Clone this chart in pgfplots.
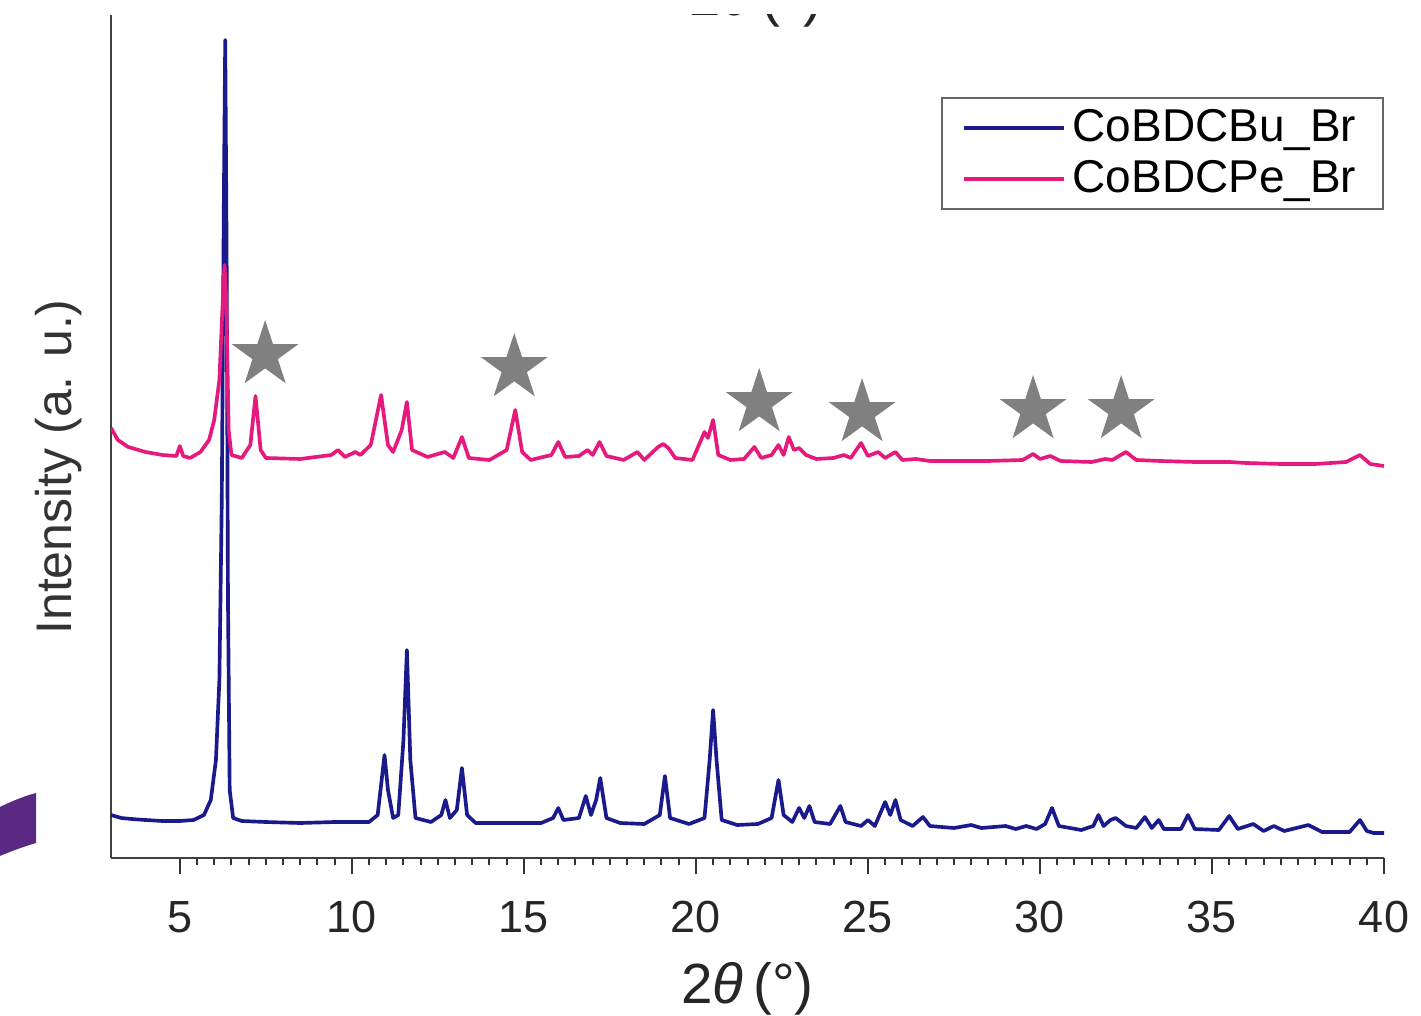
\documentclass[border=0pt]{standalone}
\usepackage{fontspec}
\setmainfont{Liberation Sans}
\usepackage{pgfplots}
\pgfplotsset{compat=1.18}
\definecolor{cobu}{RGB}{26,26,140}
\definecolor{cope}{RGB}{230,25,125}
\definecolor{stargray}{RGB}{128,128,128}
\definecolor{artpurple}{RGB}{91,40,130}
\pgfdeclareplotmark{fstar}{%
  \pgfpathmoveto{\pgfpointpolar{90}{\pgfplotmarksize}}%
  \pgfpathlineto{\pgfpointpolar{126}{0.382\pgfplotmarksize}}%
  \pgfpathlineto{\pgfpointpolar{162}{\pgfplotmarksize}}%
  \pgfpathlineto{\pgfpointpolar{198}{0.382\pgfplotmarksize}}%
  \pgfpathlineto{\pgfpointpolar{234}{\pgfplotmarksize}}%
  \pgfpathlineto{\pgfpointpolar{270}{0.382\pgfplotmarksize}}%
  \pgfpathlineto{\pgfpointpolar{306}{\pgfplotmarksize}}%
  \pgfpathlineto{\pgfpointpolar{342}{0.382\pgfplotmarksize}}%
  \pgfpathlineto{\pgfpointpolar{18}{\pgfplotmarksize}}%
  \pgfpathlineto{\pgfpointpolar{54}{0.382\pgfplotmarksize}}%
  \pgfpathclose
  \pgfusepathqfill
}
\begin{document}
\begin{tikzpicture}
\begin{axis}[
  scale only axis,
  width=381.9pt, height=252.9pt,
  xmin=3, xmax=40, ymin=0, ymax=843,
  axis x line*=bottom, axis y line*=left,
  axis line style={black!75, line width=0.8pt},
  ytick=\empty,
  xtick={5,10,...,40},
  minor x tick num=9,
  tick align=outside,
  major tick length=4.8pt,
  minor tick length=2pt,
  tick style={black!80, line width=0.6pt},
  /pgf/number format/assume math mode=true,
  xticklabel style={font=\fontsize{13.5}{16}\selectfont, text=black!85, anchor=base, yshift=-17.5pt},
  xlabel={2{\itshape θ}\,(°)},
  xlabel style={font=\fontsize{17}{20}\selectfont, text=black!85, at={(axis description cs:0.5,-0.172)}, anchor=base},
  ylabel={Intensity (a. u.)},
  ylabel style={font=\fontsize{15}{18}\selectfont, text=black!80, at={(axis description cs:-0.0314,0.4638)}, anchor=base},
  legend cell align=left,
  legend style={at={(rel axis cs:1,0.9027)}, anchor=north east, draw=black!60, line width=0.6pt,
    font=\fontsize{13.8}{16}\selectfont, row sep=0pt, inner xsep=6pt, inner ysep=1.5pt},
  legend image code/.code={\draw[#1] (0pt,0pt) -- (30pt,0pt);},
]
\addplot[cobu, line width=1.1pt, line join=round] coordinates {
(3.0,43) (3.3,40) (3.6,39) (4.0,38) (4.5,37) (5.0,37) (5.4,38) (5.7,43) (5.9,58)
(6.05,98) (6.15,178) (6.22,358) (6.28,658) (6.32,818) (6.36,608) (6.40,258) (6.45,68)
(6.55,40) (6.8,37) (7.5,36) (8.5,35) (9.5,36) (10.5,36) (10.75,43) (10.9,88) (10.95,103)
(11.05,68) (11.2,40) (11.35,43) (11.5,118) (11.6,208) (11.7,98) (11.85,40) (12.3,36)
(12.6,43) (12.72,58) (12.85,40) (13.05,48) (13.2,90) (13.35,43) (13.6,35) (14.5,35)
(15.5,35) (15.85,40) (16.0,50) (16.15,38) (16.6,40) (16.8,62) (16.95,43) (17.1,58)
(17.22,80) (17.4,40) (17.8,35) (18.5,34) (18.95,43) (19.1,82) (19.25,40) (19.8,34)
(20.25,40) (20.4,98) (20.5,148) (20.6,98) (20.75,38) (21.2,33) (21.8,34) (22.2,40)
(22.4,78) (22.55,43) (22.8,36) (23.0,50) (23.15,40) (23.3,52) (23.45,36) (23.9,34)
(24.2,52) (24.35,36) (24.8,32) (25.0,38) (25.2,32) (25.5,56) (25.65,43) (25.8,58)
(25.95,38) (26.3,32) (26.6,41) (26.8,32) (27.5,30) (28.0,33) (28.3,30) (29.0,32)
(29.3,29) (29.6,32) (29.9,29) (30.15,34) (30.35,50) (30.55,32) (31.2,28) (31.55,32)
(31.7,43) (31.85,32) (32.05,38) (32.2,40) (32.5,32) (32.8,30) (33.05,41) (33.25,30)
(33.45,38) (33.6,29) (34.1,29) (34.3,43) (34.5,29) (35.2,28) (35.5,42) (35.75,29)
(36.2,34) (36.5,27) (36.8,32) (37.1,27) (37.8,33) (38.2,26) (39.0,26) (39.3,38)
(39.5,27) (39.7,25) (40.0,25)
};
\addlegendentry{CoBDCBu\_Br}
\addplot[cope, line width=1.1pt, line join=round] coordinates {
(3.0,430) (3.2,418) (3.5,411) (4.0,406) (4.5,403) (4.9,402) (5.0,412) (5.1,402)
(5.3,400) (5.6,406) (5.85,418) (6.0,438) (6.15,478) (6.25,558) (6.3,593) (6.35,558)
(6.42,428) (6.5,403) (6.8,400) (7.05,413) (7.2,462) (7.35,408) (7.5,400) (8.5,399)
(9.4,403) (9.6,408) (9.8,401) (10.1,406) (10.25,403) (10.55,413) (10.85,463) (11.05,413)
(11.2,406) (11.45,428) (11.6,456) (11.75,408) (12.2,401) (12.7,406) (12.95,400)
(13.2,421) (13.4,400) (14.0,398) (14.5,408) (14.75,448) (14.95,406) (15.2,398)
(15.8,403) (16.0,416) (16.2,401) (16.6,402) (16.85,408) (17.0,403) (17.2,416) (17.4,402)
(17.9,398) (18.3,406) (18.5,398) (18.9,411) (19.05,414) (19.2,410) (19.4,400) (19.9,398)
(20.15,418) (20.25,426) (20.35,420) (20.5,438) (20.65,403) (21.0,398) (21.4,399)
(21.7,411) (21.9,400) (22.2,403) (22.4,413) (22.55,403) (22.7,421) (22.85,408)
(23.0,410) (23.2,403) (23.5,399) (24.0,400) (24.3,403) (24.5,400) (24.8,415) (25.0,402)
(25.3,406) (25.5,400) (25.8,406) (26.0,398) (26.4,399) (26.8,397) (27.5,397) (28.5,397)
(29.5,398) (29.8,404) (30.0,399) (30.3,402) (30.6,397) (31.5,396) (31.9,399) (32.1,398)
(32.5,406) (32.8,398) (33.5,397) (34.5,396) (35.5,396) (36.0,395) (37.0,394) (38.0,394)
(38.9,396) (39.3,403) (39.6,394) (40.0,392)
};
\addlegendentry{CoBDCPe\_Br}
\addplot[only marks, mark=fstar, mark size=10.5pt, color=stargray, forget plot] coordinates {
(7.48,503) (14.72,490) (21.84,455) (24.83,445) (29.80,448) (32.36,448)
};
\node[font=\fontsize{17}{20}\selectfont, text=black!85, anchor=base] at (axis description cs:0.5067,0.9995) {2{\itshape θ}\,(°)};
\end{axis}
\begin{scope}[shift={(current axis.south west)}]
\fill[artpurple] (-36pt,14pt) .. controls (-31pt,16.5pt) and (-27pt,18.3pt) .. (-22.5pt,19.5pt)
  -- (-22.5pt,4.5pt) .. controls (-27pt,3.2pt) and (-31pt,1.6pt) .. (-36pt,-0.5pt) -- cycle;
\end{scope}
\pgfresetboundingbox
\path[use as bounding box] ([shift={(-33.3pt,-47.1pt)}]current axis.south west) rectangle ([shift={(11.1pt,4.5pt)}]current axis.north east);
\end{tikzpicture}
\end{document}
